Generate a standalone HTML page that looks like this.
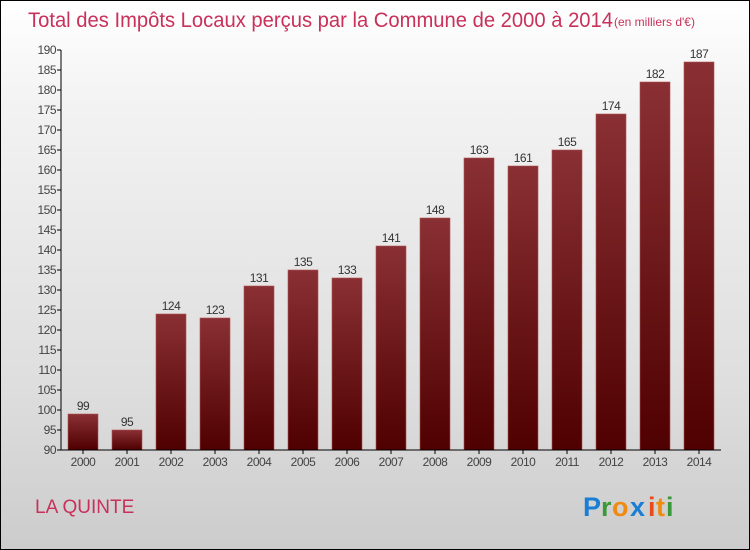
<!DOCTYPE html>
<html><head><meta charset="utf-8"><style>
html,body{margin:0;padding:0}
body{width:750px;height:550px;overflow:hidden;font-family:"Liberation Sans",sans-serif}
#wrap{position:absolute;left:0;top:0;width:748px;height:548px;border:1px solid #000;background:linear-gradient(#ffffff,#f2f2f2 20%,#dedede 70%,#cccccc)}
</style></head><body>
<div id="wrap">
<svg id="svg" width="750" height="550" style="position:absolute;left:-1px;top:-1px">
<text x="28" y="27" font-size="21" fill="#c8315a" font-family="Liberation Sans, sans-serif" textLength="585" lengthAdjust="spacingAndGlyphs">Total des Impôts Locaux perçus par la Commune de 2000 à 2014</text>
<text x="614" y="26" font-size="12" fill="#c8315a">(en milliers d'€)</text>
<text x="35" y="513" font-size="19" fill="#c8315a">LA QUINTE</text>
<g font-size="27" font-weight="bold" font-family="Liberation Sans, sans-serif">
<text x="583" y="516" fill="#1a7fd4">P</text><text x="601" y="516" fill="#3a9a3a">r</text><text x="612" y="516" fill="#f08a10">o</text><text x="630" y="516" fill="#1a7fd4">x</text><text x="648" y="516" fill="#e84a1a">i</text><text x="656" y="516" fill="#f08a10">t</text><text x="666" y="516" fill="#3a9a3a">i</text>
</g>
<defs><linearGradient id="bg" x1="0" y1="0" x2="0" y2="1"><stop offset="0" stop-color="#8a3034"/><stop offset="1" stop-color="#4f0000"/></linearGradient></defs>
<g id="plot"></g>
</svg>
</div>
<script>
const years=["2000","2001","2002","2003","2004","2005","2006","2007","2008","2009","2010","2011","2012","2013","2014"];
const values=[99,95,124,123,131,135,133,141,148,163,161,165,174,182,187];
const yTicks=[90,95,100,105,110,115,120,125,130,135,140,145,150,155,160,165,170,175,180,185,190];
const NS="http://www.w3.org/2000/svg";
const plotG=document.getElementById('plot');
const yMin=90,yMax=190,plotTop=50,plotBot=450,plotLeft=61,plotRight=721;
const yS=v=>plotBot-(v-yMin)/(yMax-yMin)*(plotBot-plotTop);
const step=44,x0=83;
const xS=i=>x0+i*step;
function mk(t,a){const e=document.createElementNS(NS,t);for(const k in a)e.setAttribute(k,a[k]);plotG.appendChild(e);return e;}
yTicks.forEach(v=>{
 const l=mk('line',{x1:57,x2:plotLeft,y1:yS(v),y2:yS(v),stroke:'#000'});
 
 
 const t=mk('text',{x:56,y:yS(v)+4,'text-anchor':'end','font-size':12,fill:'#444','letter-spacing':'-0.5'});
 t.textContent=v;
 
 
});
values.forEach((v,i)=>{
 const r=mk('rect',{x:xS(i)-15,y:yS(v),width:30,height:plotBot-yS(v),fill:'url(#bg)',stroke:'#b05050','stroke-width':0.6});
 
 
 const t=mk('text',{x:xS(i),y:yS(v)-4,'text-anchor':'middle','font-size':12,fill:'#333','letter-spacing':'-0.5'});
 t.textContent=v;
 
 
 const tl=mk('line',{x1:xS(i),x2:xS(i),y1:plotBot,y2:plotBot+4,stroke:'#000'});
 
 
 const xl=mk('text',{x:xS(i),y:466,'text-anchor':'middle','font-size':12,fill:'#444','letter-spacing':'-0.5'});
 xl.textContent=years[i];
 
 
});
const ya=mk('line',{x1:plotLeft,x2:plotLeft,y1:plotTop,y2:plotBot,stroke:'#000'});


const xa=mk('line',{x1:plotLeft,x2:plotRight,y1:plotBot,y2:plotBot,stroke:'#000'});


</script>
</body></html>
